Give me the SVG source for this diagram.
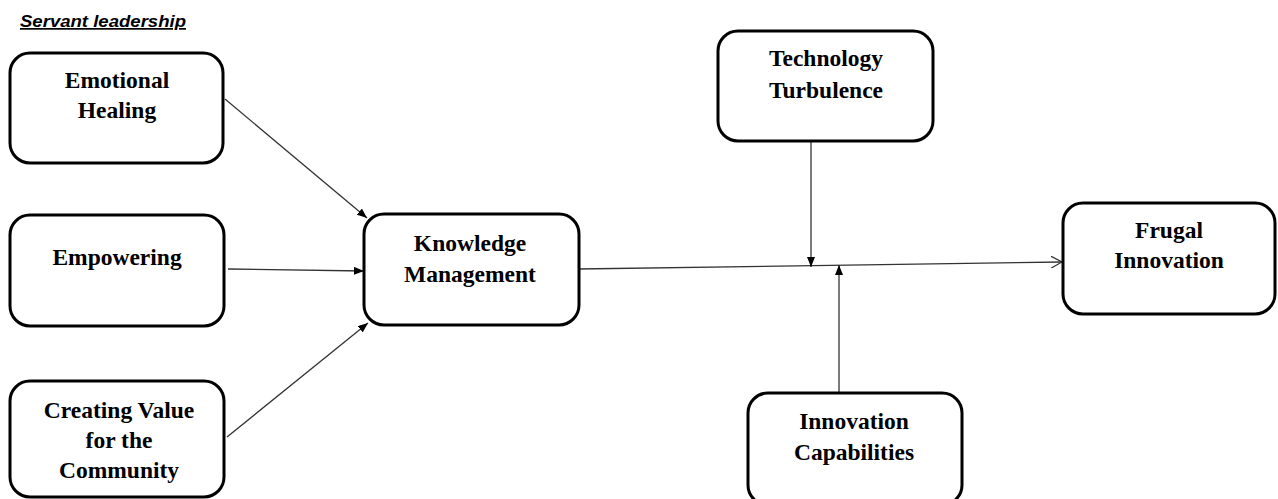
<svg xmlns="http://www.w3.org/2000/svg" width="1278" height="499" viewBox="0 0 1278 499">
<style>
.box{fill:#fff;stroke:#000;stroke-width:3}
.t{font-family:"Liberation Serif","Times New Roman",serif;font-weight:bold;font-size:23.5px;fill:#000;text-anchor:middle}
.c{stroke:#333;stroke-width:1.3;fill:none}
.h{font-family:"Liberation Sans",Arial,sans-serif;font-weight:bold;font-style:italic;font-size:17px;text-decoration:underline;fill:#000}
</style>
<defs>
<marker id="a" viewBox="0 0 10 8" refX="10" refY="4" markerWidth="10" markerHeight="8" markerUnits="userSpaceOnUse" orient="auto">
<path d="M0,0 L10,4 L0,8 Z" fill="#000"/>
</marker>
<marker id="o" viewBox="0 0 12 12" refX="11" refY="6" markerWidth="12" markerHeight="12" markerUnits="userSpaceOnUse" orient="auto">
<path d="M0,0 L11,6 L0,12" fill="none" stroke="#333" stroke-width="1.2"/>
</marker>
</defs>
<rect width="1278" height="499" fill="#fff"/>
<text class="h" x="20" y="27" textLength="166" lengthAdjust="spacingAndGlyphs">Servant leadership</text>
<g id="connectors">
<line class="c" x1="225" y1="99" x2="367" y2="218" marker-end="url(#a)"/>
<line class="c" x1="228" y1="269" x2="364" y2="271" marker-end="url(#a)"/>
<line class="c" x1="227" y1="437" x2="368" y2="323" marker-end="url(#a)"/>
<line class="c" x1="578" y1="269" x2="1062" y2="262" marker-end="url(#o)"/>
<line class="c" x1="811" y1="141" x2="811" y2="267" marker-end="url(#a)"/>
<line class="c" x1="839" y1="393" x2="839" y2="265" marker-end="url(#a)"/>
</g>
<g id="emotional-healing">
<rect class="box" x="10" y="53" width="213" height="110" rx="20"/>
<text class="t" x="117" y="88">Emotional</text>
<text class="t" x="117" y="118">Healing</text>
</g>
<g id="empowering">
<rect class="box" x="10" y="215" width="214" height="111" rx="20"/>
<text class="t" x="117" y="265">Empowering</text>
</g>
<g id="creating-value">
<rect class="box" x="10" y="381" width="214" height="116" rx="20"/>
<text class="t" x="119" y="418">Creating Value</text>
<text class="t" x="119" y="448">for the</text>
<text class="t" x="119" y="478">Community</text>
</g>
<g id="knowledge-management">
<rect class="box" x="364" y="214" width="215" height="111" rx="20"/>
<text class="t" x="470" y="251">Knowledge</text>
<text class="t" x="470" y="282">Management</text>
</g>
<g id="technology-turbulence">
<rect class="box" x="718" y="31" width="215" height="110" rx="20"/>
<text class="t" x="826" y="66">Technology</text>
<text class="t" x="826" y="98">Turbulence</text>
</g>
<g id="innovation-capabilities">
<rect class="box" x="748" y="393" width="214" height="112" rx="20"/>
<text class="t" x="854" y="429">Innovation</text>
<text class="t" x="854" y="460">Capabilities</text>
</g>
<g id="frugal-innovation">
<rect class="box" x="1063" y="203" width="212" height="111" rx="20"/>
<text class="t" x="1169" y="238">Frugal</text>
<text class="t" x="1169" y="268">Innovation</text>
</g>
</svg>
